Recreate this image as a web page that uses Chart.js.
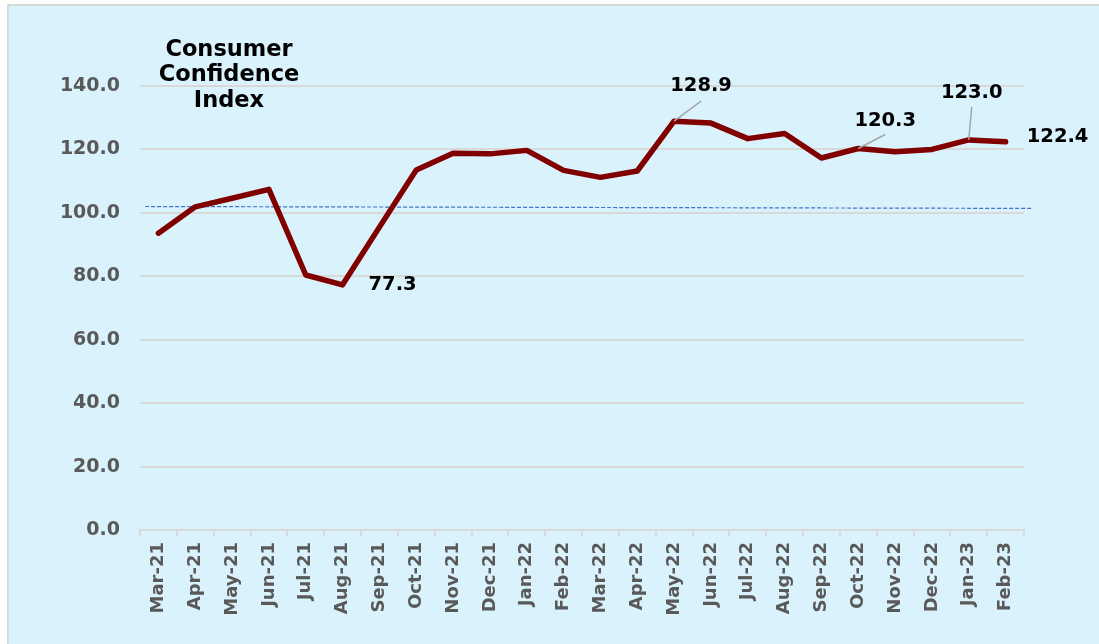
<!DOCTYPE html>
<html>
<head>
<meta charset="utf-8">
<script src="https://cdn.jsdelivr.net/npm/chart.js@4"></script>
<style>
    html, body { margin: 0; padding: 0; background: #ffffff; }
    #wrap { width: 1099px; height: 644px; position: relative; }
</style>
</head>
<body>
<div id="wrap"><canvas id="cci"></canvas></div>
<script>
// Months shown on the x axis
const months = [
    'Mar-21', 'Apr-21', 'May-21', 'Jun-21', 'Jul-21', 'Aug-21',
    'Sep-21', 'Oct-21', 'Nov-21', 'Dec-21', 'Jan-22', 'Feb-22',
    'Mar-22', 'Apr-22', 'May-22', 'Jun-22', 'Jul-22', 'Aug-22',
    'Sep-22', 'Oct-22', 'Nov-22', 'Dec-22', 'Jan-23', 'Feb-23',
];

// Consumer confidence index values
const cciValues = [
    93.6, 101.9, 104.6, 107.4, 80.4, 77.3,
    95.5, 113.5, 118.8, 118.6, 119.7, 113.4,
    111.2, 113.2, 128.9, 128.3, 123.4, 125.0,
    117.3, 120.3, 119.3, 120.0, 123.0, 122.4,
];

// Dashed trend line: start and end (position on month axis, value)
const trendX = [0.14, 24.25];
const trendY = [102.0, 101.4];

const yTicks = [0, 20, 40, 60, 80, 100, 120, 140];

const titleLines = ['Consumer', 'Confidence', 'Index'];

// Which points get a value label, and where it sits (offsets in px)
const labelled = [
    { i: 5, dx: 50, dy: 0 },
    { i: 14, dx: 27, dy: -35, lx: 27, ly: -20 },
    { i: 19, dx: 27, dy: -28, lx: 27, ly: -14 },
    { i: 22, dx: 3, dy: -47, lx: 3, ly: -33 },
    { i: 23, dx: 52, dy: -5 },
];

const FONT = '"DejaVu Sans", Verdana, sans-serif';

const backdrop = {
    id: 'backdrop',
    beforeDraw(chart) {
        const ctx = chart.ctx;
        ctx.save();
        ctx.fillStyle = '#ffffff';
        ctx.fillRect(0, 0, chart.width, chart.height);
        ctx.fillStyle = '#DAF2FC';
        ctx.fillRect(8, 5, chart.width - 8, chart.height - 5);
        ctx.strokeStyle = '#D9D9D9';
        ctx.lineWidth = 2;
        ctx.beginPath();
        ctx.moveTo(8, chart.height);
        ctx.lineTo(8, 5);
        ctx.lineTo(chart.width, 5);
        ctx.stroke();
        ctx.restore();
    },
    afterDraw(chart) {
        const ctx = chart.ctx;
        ctx.save();
        // title
        ctx.fillStyle = '#000000';
        ctx.font = 'bold 22.5px ' + FONT;
        ctx.textAlign = 'center';
        ctx.textBaseline = 'middle';
        titleLines.forEach((t, k) => ctx.fillText(t, 229, 50 + k * 25.5));

        // value labels with leader lines
        const meta = chart.getDatasetMeta(0);
        ctx.font = 'bold 19.5px ' + FONT;
        labelled.forEach((l) => {
            const p = meta.data[l.i];
            if (l.lx !== undefined) {
                ctx.strokeStyle = '#A6A6A6';
                ctx.lineWidth = 1.5;
                ctx.beginPath();
                ctx.moveTo(p.x, p.y);
                ctx.lineTo(p.x + l.lx, p.y + l.ly);
                ctx.stroke();
            }
            ctx.fillStyle = '#000000';
            ctx.fillText(cciValues[l.i].toFixed(1), p.x + l.dx, p.y + l.dy);
        });
        ctx.restore();
    },
};

const config = {
    type: 'line',
    data: {
        labels: months,
        datasets: [
            {
                data: cciValues,
                borderColor: '#800000',
                borderWidth: 5.5,
                borderCapStyle: 'round',
                borderJoinStyle: 'round',
                pointRadius: 0,
                tension: 0,
                order: 0,
            },
            {
                data: trendX.map((x, k) => ({ x: x, y: trendY[k] })),
                xAxisID: 'xt',
                borderColor: '#4472C4',
                borderWidth: 1.2,
                borderDash: [4, 2],
                pointRadius: 0,
                clip: false,
                order: 1,
            },
        ],
    },
    options: {
        responsive: false,
        animation: false,
        events: [],
        layout: {
            padding: { left: 0, right: 75, top: 86, bottom: 0 },
        },
        plugins: {
            legend: { display: false },
            tooltip: { enabled: false },
        },
        scales: {
            x: {
                offset: true,
                grid: {
                    offset: true,
                    drawOnChartArea: false,
                    color: '#D9D9D9',
                    lineWidth: 2,
                    tickLength: 6,
                },
                border: { color: '#D9D9D9', width: 2 },
                ticks: {
                    autoSkip: false,
                    minRotation: 90,
                    maxRotation: 90,
                    padding: 6,
                    color: '#595959',
                    font: { family: FONT, size: 18, weight: 'bold' },
                },
                afterFit(scale) {
                    scale.height = 114;
                },
            },
            xt: {
                type: 'linear',
                display: false,
                min: 0,
                max: months.length,
            },
            y: {
                min: yTicks[0],
                max: yTicks[yTicks.length - 1],
                afterBuildTicks(scale) {
                    scale.ticks = yTicks.map((v) => ({ value: v }));
                },
                grid: {
                    color: '#D9D9D9',
                    lineWidth: 2,
                    tickLength: 0,
                },
                border: { display: false },
                ticks: {
                    padding: 20,
                    color: '#595959',
                    font: { family: FONT, size: 19, weight: 'bold' },
                    callback: (v) => Number(v).toFixed(1),
                },
                afterFit(scale) {
                    scale.width = 140;
                },
            },
        },
    },
    plugins: [backdrop],
};

const canvas = document.getElementById('cci');
canvas.width = 1099;
canvas.height = 644;
const cciChart = new Chart(canvas, config);
</script>
</body>
</html>
